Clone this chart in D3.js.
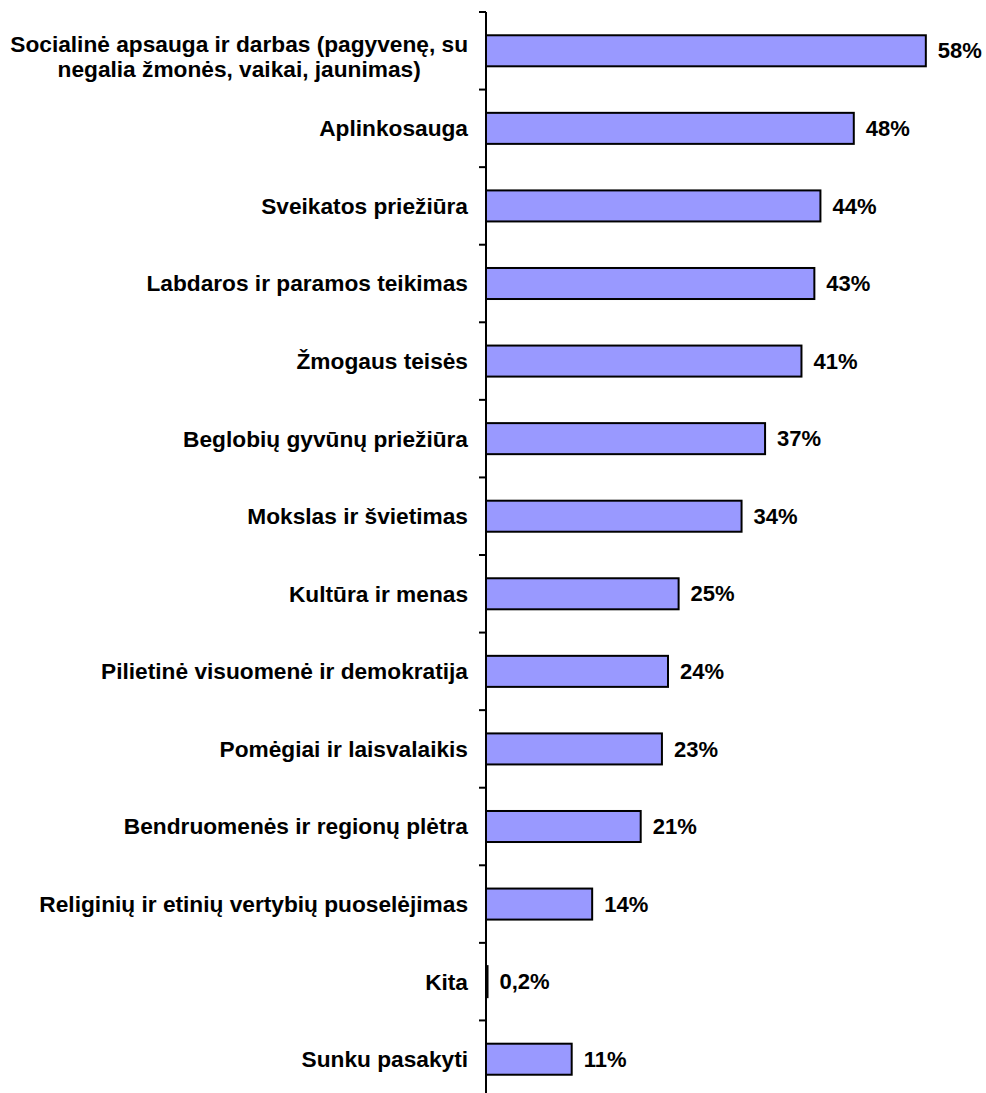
<!DOCTYPE html>
<html lang="lt">
<head>
<meta charset="UTF-8">
<title>Sritys</title>
<script src="https://d3js.org/d3.v7.min.js"></script>
<style>
  body { margin: 0; background: #fff; }
  text { font-family: "Liberation Sans", Arial, sans-serif; font-weight: bold; font-size: 22px; fill: #000; }
  text.cat { font-size: 22.7px; }
</style>
</head>
<body>
<svg width="986" height="1093"></svg>
<script>
const categories = [
  ["Socialinė apsauga ir darbas (pagyvenę, su", "negalia žmonės, vaikai, jaunimas)"],
  ["Aplinkosauga"],
  ["Sveikatos priežiūra"],
  ["Labdaros ir paramos teikimas"],
  ["Žmogaus teisės"],
  ["Beglobių gyvūnų priežiūra"],
  ["Mokslas ir švietimas"],
  ["Kultūra ir menas"],
  ["Pilietinė visuomenė ir demokratija"],
  ["Pomėgiai ir laisvalaikis"],
  ["Bendruomenės ir regionų plėtra"],
  ["Religinių ir etinių vertybių puoselėjimas"],
  ["Kita"],
  ["Sunku pasakyti"]
];
const values = [58, 48.5, 44.1, 43.3, 41.6, 36.8, 33.7, 25.4, 24, 23.2, 20.4, 14, 0.2, 11.3];
const valueLabels = ["58%", "48%", "44%", "43%", "41%", "37%", "34%", "25%", "24%", "23%", "21%", "14%", "0,2%", "11%"];

const svg = d3.select("svg");
const axisX = 486;

const y = d3.scaleBand()
  .domain(d3.range(categories.length))
  .range([12, 1098])
  .paddingInner(0.6)
  .paddingOuter(0.3);

const x = d3.scaleLinear()
  .domain([0, 60])
  .range([axisX, axisX + 455]);

// bars
svg.selectAll("rect.bar")
  .data(values)
  .enter().append("rect")
  .attr("class", "bar")
  .attr("x", x(0))
  .attr("y", (d, i) => y(i))
  .attr("width", d => x(d) - x(0))
  .attr("height", y.bandwidth())
  .attr("fill", "#9999FF")
  .attr("stroke", "#000")
  .attr("stroke-width", 2);

// axis line + tick marks at band boundaries
const step = y.step();
const bounds = d3.range(categories.length).map(i => y(i) - step * 0.3);
svg.append("line")
  .attr("x1", axisX).attr("x2", axisX)
  .attr("y1", 12).attr("y2", 1098)
  .attr("stroke", "#000").attr("stroke-width", 2);
svg.selectAll("line.tick")
  .data(bounds)
  .enter().append("line")
  .attr("class", "tick")
  .attr("x1", axisX - 7).attr("x2", axisX)
  .attr("y1", d => d).attr("y2", d => d)
  .attr("stroke", "#000").attr("stroke-width", 2);

// category labels (multi-line ones centred on their widest line)
const labelRight = 468;
categories.forEach((lines, i) => {
  const cy = y(i) + y.bandwidth() / 2;
  const g = svg.append("text").attr("class", "cat").attr("text-anchor", "middle");
  const lh = 25;
  const t0 = cy - (lines.length - 1) * lh / 2 + (lines.length > 1 ? 6 : 0);
  lines.forEach((s, j) => {
    g.append("tspan").attr("y", t0 + j * lh).attr("dy", "0.35em").text(s);
  });
  let w = 0;
  g.selectAll("tspan").each(function() { w = Math.max(w, this.getComputedTextLength()); });
  g.selectAll("tspan").attr("x", labelRight - w / 2);
});

// value labels
svg.selectAll("text.val")
  .data(values)
  .enter().append("text")
  .attr("class", "val")
  .attr("x", d => x(d) + 12)
  .attr("y", (d, i) => y(i) + y.bandwidth() / 2)
  .attr("dy", "0.35em")
  .text((d, i) => valueLabels[i]);
</script>
</body>
</html>
